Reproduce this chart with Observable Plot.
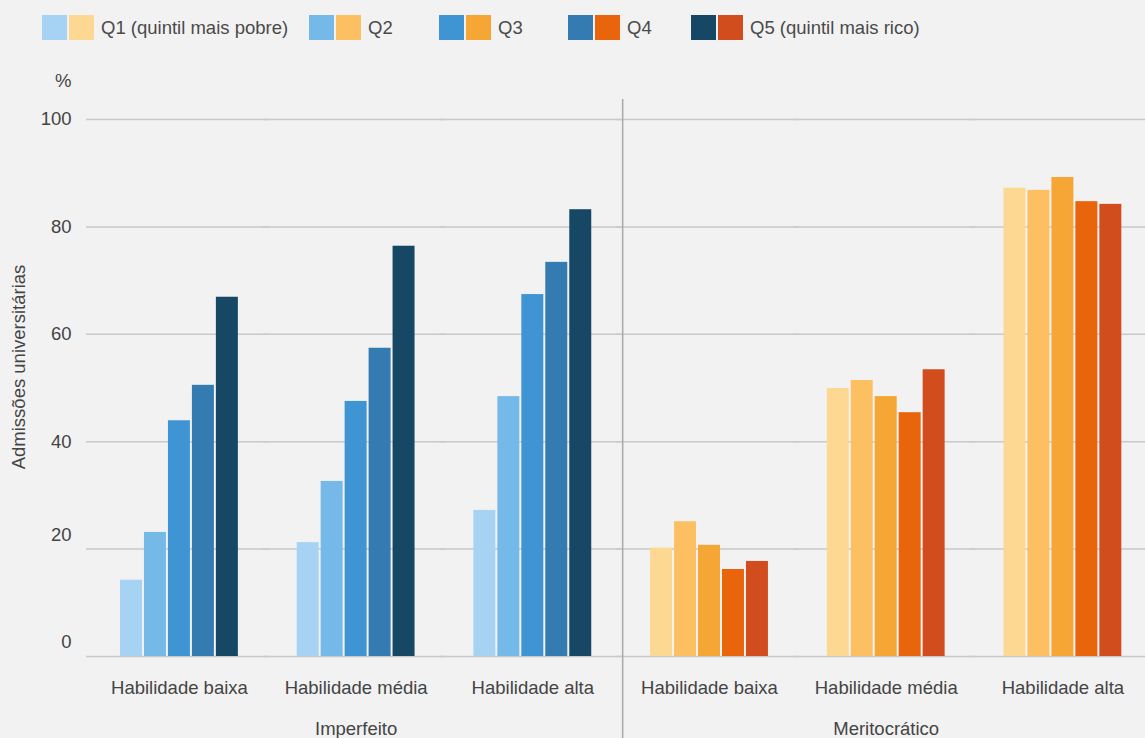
<!DOCTYPE html>
<html><head><meta charset="utf-8">
<script src="https://cdn.jsdelivr.net/npm/d3@7"></script>
<script src="https://cdn.jsdelivr.net/npm/@observablehq/plot@0.6"></script>
<style>
html,body{margin:0;padding:0;background:#f2f2f2;overflow:hidden;}
body{width:1145px;height:738px;font-family:"Liberation Sans",Arial,Helvetica,sans-serif;color:#4a4a4a;}
#legend{position:relative;height:56px;display:flex;padding-left:42px;box-sizing:border-box;padding-top:15px;}
.item{display:flex;align-items:center;font-size:18.5px;height:25px;}
.sw{width:25px;height:25px;margin-right:2px;flex:none}
.item .t{margin-left:5px;white-space:nowrap}
#chart svg{display:block}
</style></head><body>
<div id="legend"></div><div id="chart"></div>
<script>
// ---- data ----
const quintiles = ["Q1", "Q2", "Q3", "Q4", "Q5"];
const legendLabels = ["Q1 (quintil mais pobre)", "Q2", "Q3", "Q4", "Q5 (quintil mais rico)"];
const systems = ["Imperfeito", "Meritocrático"];
const abilities = ["Habilidade baixa", "Habilidade média", "Habilidade alta"];
const yTicks = [0, 20, 40, 60, 80, 100];
const yLabel = "Admissões universitárias";
const yUnit = "%";

const imperfeitoBaixa = [14.2, 23.1, 43.9, 50.5, 66.9];
const imperfeitoMedia = [21.2, 32.6, 47.5, 57.4, 76.4];
const imperfeitoAlta  = [27.2, 48.4, 67.4, 73.4, 83.2];
const meritocraticoBaixa = [20.2, 25.1, 20.7, 16.2, 17.7];
const meritocraticoMedia = [49.9, 51.4, 48.4, 45.4, 53.4];
const meritocraticoAlta  = [87.2, 86.8, 89.2, 84.7, 84.2];

const bluePalette = ["#a6d3f4", "#75b9e8", "#3f94d3", "#337bb0", "#164866"];
const orangePalette = ["#fdd892", "#fcc063", "#f6a634", "#e8650c", "#d14d1e"];

// ---- table ----
const seriesBySystem = {
  "Imperfeito": [imperfeitoBaixa, imperfeitoMedia, imperfeitoAlta],
  "Meritocrático": [meritocraticoBaixa, meritocraticoMedia, meritocraticoAlta]
};
const paletteBySystem = {"Imperfeito": bluePalette, "Meritocrático": orangePalette};
const keys = systems.flatMap(s => abilities.map(a => s + "|" + a));
const rows = [];
systems.forEach(s => abilities.forEach((a, ai) => {
  seriesBySystem[s][ai].forEach((v, qi) => rows.push({
    key: s + "|" + a, q: quintiles[qi], v, color: paletteBySystem[s][qi]
  }));
}));

// ---- legend ----
const legendWidths = [267, 130, 129, 123, null];
const legend = document.getElementById("legend");
quintiles.forEach((q, i) => {
  const it = document.createElement("div");
  it.className = "item";
  if (legendWidths[i]) it.style.width = legendWidths[i] + "px";
  it.innerHTML = `<div class="sw" style="background:${bluePalette[i]}"></div><div class="sw" style="background:${orangePalette[i]}"></div><span class="t">${legendLabels[i]}</span>`;
  legend.appendChild(it);
});

// ---- chart ----
const W = 1145, H = 682;
const plot = Plot.plot({
  width: W, height: H,
  marginTop: 63, marginBottom: 82, marginLeft: 120, marginRight: 0,
  style: {background: "transparent", fontFamily: "Liberation Sans, Arial, Helvetica, sans-serif", fontSize: "18.5px", color: "#444"},
  fx: {domain: keys, paddingInner: 0.333, paddingOuter: 0.067, align: 0, round: false},
  x: {domain: quintiles, paddingInner: 1/12, paddingOuter: 0, axis: null, round: false},
  y: {domain: [0, 100]},
  color: {type: "identity"},
  marks: [
    Plot.ruleY(yTicks, {stroke: "#c9c9c9", strokeWidth: 1.5, insetLeft: -34, insetRight: -31}),
    Plot.barY(rows, {fx: "key", x: "q", y: "v", fill: "color"}),
    Plot.axisY(yTicks.filter(t => t >= 40), {tickSize: 0, tickPadding: 49, label: null}),
    Plot.axisY(yTicks.filter(t => t < 40), {tickSize: 0, tickPadding: 49, dy: -14, label: null}),
    Plot.axisFx({anchor: "bottom", tickSize: 0, tickPadding: 24, label: null, tickFormat: k => k.split("|")[1]}),
    Plot.text(systems, {fx: s => s + "|" + abilities[1], text: d => d, frameAnchor: "bottom", lineAnchor: "middle", dy: 73}),
    Plot.text([yUnit], {fx: () => keys[0], text: d => d, frameAnchor: "top-left", textAnchor: "end", lineAnchor: "middle", dx: -49, dy: -38}),
    Plot.text([yLabel], {fx: () => keys[0], text: d => d, frameAnchor: "left", textAnchor: "middle", lineAnchor: "middle", rotate: -90, dx: -101, dy: -21})
  ]
});
document.getElementById("chart").appendChild(plot);

// separator between the two systems, placed from the fx scale
const fxS = plot.scale("fx");
const yS = plot.scale("y");
const step = fxS.apply(keys[1]) - fxS.apply(keys[0]);
const bw = fxS.bandwidth;
const xSep = fxS.apply(keys[3]) - (step - bw) / 2 + 2;
d3.select(plot).append("line")
  .attr("x1", xSep).attr("x2", xSep)
  .attr("y1", yS.apply(100) - 20).attr("y2", H)
  .attr("stroke", "#a9a9a9").attr("stroke-width", 1.5);
</script>
</body></html>
